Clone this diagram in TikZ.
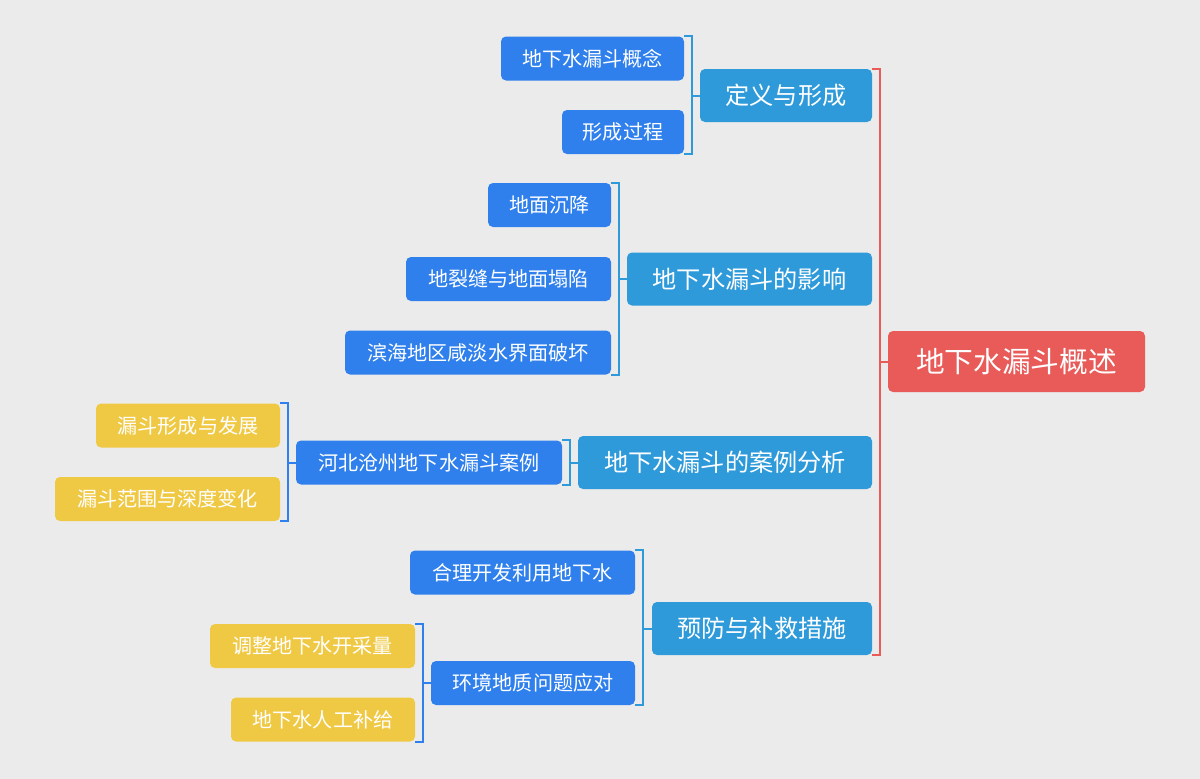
\documentclass[tikz,border=0pt]{standalone}
\usepackage{fontspec}
\setmainfont{Noto Sans CJK SC}
\definecolor{bg}{HTML}{EBEBEB}
\definecolor{rootred}{HTML}{E95B58}
\definecolor{lone}{HTML}{2E9ADA}
\definecolor{ltwo}{HTML}{2F80EC}
\definecolor{lthree}{HTML}{F0C944}
\begin{document}
\begin{tikzpicture}[x=1pt,y=-1pt,
  box/.style={rounded corners=5pt, text=white, inner sep=0pt, anchor=center},
  rootbox/.style={box, fill=rootred, minimum width=257pt, minimum height=61pt, font=\fontsize{28.7}{30}\selectfont},
  oneb/.style={box, fill=lone, minimum height=53pt, font=\fontsize{24.2}{26}\selectfont},
  twob/.style={box, fill=ltwo, minimum height=44pt, font=\fontsize{20.1}{22}\selectfont},
  threeb/.style={box, fill=lthree, minimum height=44pt, font=\fontsize{20.1}{22}\selectfont},
  brk/.style={line width=2pt, line join=miter}
]
\fill[bg] (0,0) rectangle (1200,779);
\useasboundingbox (0,0) rectangle (1200,779);

% nodes
\node[rootbox] (root) at (1016.5,361.5) {地下水漏斗概述};

\node[oneb, minimum width=172pt] (d1) at (786,95.5) {定义与形成};
\node[oneb, minimum width=245pt] (d2) at (749.5,279) {地下水漏斗的影响};
\node[oneb, minimum width=294pt] (d3) at (725,462.5) {地下水漏斗的案例分析};
\node[oneb, minimum width=220pt] (d4) at (762,628.5) {预防与补救措施};

\node[twob, minimum width=183pt] (k1) at (592.5,58.5) {地下水漏斗概念};
\node[twob, minimum width=122pt] (k2) at (623,132) {形成过程};
\node[twob, minimum width=123pt] (k3) at (549.5,205) {地面沉降};
\node[twob, minimum width=205pt] (k4) at (508.5,279) {地裂缝与地面塌陷};
\node[twob, minimum width=266pt] (k5) at (478,352.5) {滨海地区咸淡水界面破坏};
\node[twob, minimum width=266pt] (k6) at (429,462.5) {河北沧州地下水漏斗案例};
\node[twob, minimum width=225pt] (k7) at (522.5,572.5) {合理开发利用地下水};
\node[twob, minimum width=204pt] (k8) at (533,683) {环境地质问题应对};

\node[threeb, minimum width=184pt] (y1) at (188,425.5) {漏斗形成与发展};
\node[threeb, minimum width=225pt] (y2) at (167.5,499) {漏斗范围与深度变化};
\node[threeb, minimum width=205pt] (y3) at (312.5,646) {调整地下水开采量};
\node[threeb, minimum width=184pt] (y4) at (323,719.5) {地下水人工补给};

% bracket x positions
\coordinate (bR) at (880,0);
\coordinate (b1) at (692,0);
\coordinate (b2) at (619,0);
\coordinate (b3) at (570,0);
\coordinate (b4) at (643,0);
\coordinate (b6) at (288,0);
\coordinate (b8) at (423,0);

% root bracket
\draw[brk, rootred] (d1.north east) -- (d1.north east -| bR) -- (d4.south east -| bR) -- (d4.south east);
\draw[brk, rootred] (root.west) -- (root.west -| bR);

% level-one brackets
\draw[brk, lone] (k1.north east) -- (k1.north east -| b1) -- (k2.south east -| b1) -- (k2.south east);
\draw[brk, lone] (d1.west) -- (d1.west -| b1);

\draw[brk, lone] (k3.north east) -- (k3.north east -| b2) -- (k5.south east -| b2) -- (k5.south east);
\draw[brk, lone] (d2.west) -- (d2.west -| b2);

\draw[brk, lone] (k6.north east) -- (k6.north east -| b3) -- (k6.south east -| b3) -- (k6.south east);
\draw[brk, lone] (d3.west) -- (d3.west -| b3);

\draw[brk, lone] (k7.north east) -- (k7.north east -| b4) -- (k8.south east -| b4) -- (k8.south east);
\draw[brk, lone] (d4.west) -- (d4.west -| b4);

% level-two brackets
\draw[brk, ltwo] (y1.north east) -- (y1.north east -| b6) -- (y2.south east -| b6) -- (y2.south east);
\draw[brk, ltwo] (k6.west) -- (k6.west -| b6);

\draw[brk, ltwo] (y3.north east) -- (y3.north east -| b8) -- (y4.south east -| b8) -- (y4.south east);
\draw[brk, ltwo] (k8.west) -- (k8.west -| b8);
\end{tikzpicture}
\end{document}
